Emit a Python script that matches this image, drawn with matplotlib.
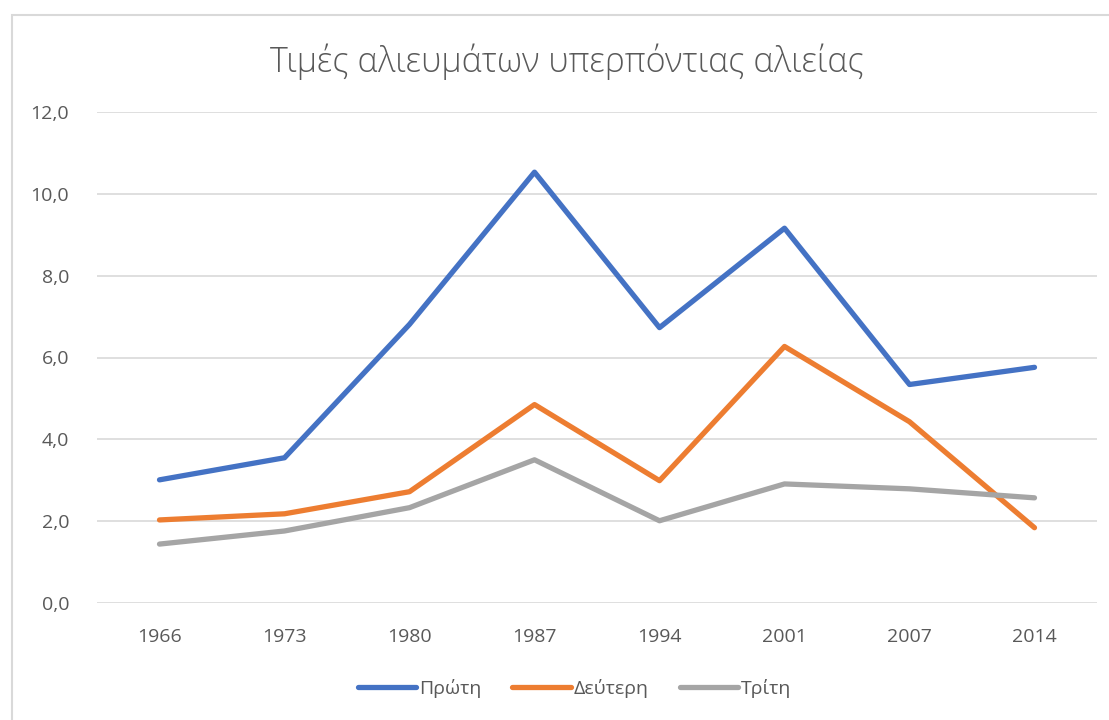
import matplotlib
matplotlib.use('Agg')
import matplotlib.pyplot as plt
from matplotlib.lines import Line2D
from matplotlib.patches import Rectangle

plt.rcParams['font.family'] = ['Open Sans', 'Noto Sans', 'DejaVu Sans']

years = ['1966', '1973', '1980', '1987', '1994', '2001', '2007', '2014']
series_names = ['Πρώτη', 'Δεύτερη', 'Τρίτη']
first = [3.01, 3.55, 6.81, 10.53, 6.73, 9.16, 5.34, 5.76]
second = [2.03, 2.18, 2.72, 4.85, 2.99, 6.27, 4.43, 1.84]
third = [1.44, 1.76, 2.33, 3.50, 2.01, 2.91, 2.79, 2.57]
colors = ['#4472C4', '#ED7D31', '#A5A5A5']
text_color = '#595959'

fig = plt.figure(figsize=(11.09, 7.2), dpi=100)
# chart frame
fig.patches.append(Rectangle((12 / 1109, -0.05), 1.1, 1 - 15 / 720 + 0.05,
                             transform=fig.transFigure, fill=False,
                             edgecolor='#D9D9D9', linewidth=1.5))

ax = fig.add_axes([97 / 1109, 1 - 603 / 720, 1000 / 1109, (603 - 112) / 720])
x = list(range(len(years)))
for vals, name, c in zip([first, second, third], series_names, colors):
    ax.plot(x, vals, color=c, linewidth=3.8, solid_capstyle='round',
            solid_joinstyle='round', label=name)

ax.set_xlim(-0.5, len(years) - 0.5)
ax.set_ylim(0, 12)
ax.set_yticks(range(0, 13, 2))
ax.set_yticklabels([f'{v},0' for v in range(0, 13, 2)])
ax.set_xticks(x)
ax.set_xticklabels(years)
ax.grid(axis='y', color='#D9D9D9', linewidth=1.2)
ax.set_axisbelow(True)
for s in ax.spines.values():
    s.set_visible(False)
ax.tick_params(length=0, colors=text_color, labelsize=14)
ax.tick_params(axis='y', pad=20)
ax.tick_params(axis='x', pad=18)

fig.text(567 / 1109, 1 - 62 / 720, 'Τιμές αλιευμάτων υπερπόντιας αλιείας',
         ha='center', va='center', fontsize=24.5, color=text_color,
         fontweight='light')

handles = [Line2D([], [], color=c, linewidth=3.8, solid_capstyle='round')
           for c in colors]
fig.legend(handles, series_names, loc='center', bbox_to_anchor=(0.518, 1 - 688 / 720),
           ncol=3, frameon=False, fontsize=14, labelcolor=text_color,
           handlelength=3.0, handletextpad=0.15, columnspacing=1.6)

fig.savefig('out.png', dpi=100)
